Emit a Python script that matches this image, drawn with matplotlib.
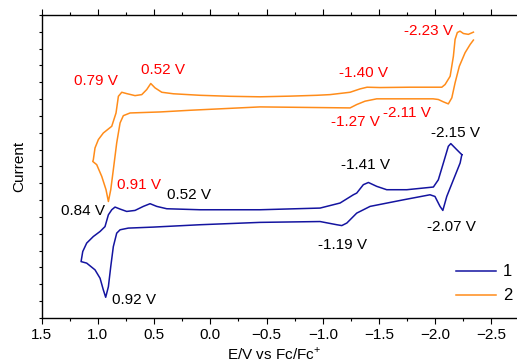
import matplotlib
matplotlib.use("Agg")
import matplotlib.pyplot as plt
from matplotlib.ticker import MultipleLocator, NullFormatter

plt.rcParams["font.family"] = ["Liberation Sans", "DejaVu Sans"]
plt.rcParams["mathtext.fontset"] = "custom"
plt.rcParams["mathtext.rm"] = "Liberation Sans"

# CV of compound 2 (orange): potential (V vs Fc/Fc+) and current (arb. units)
E2 = [-2.340, -2.295, -2.251, -2.221, -2.197, -2.177, -2.162, -2.133, -2.088, -2.059,
      -1.955, -1.776, -1.510, -1.394, -1.332, -1.243, -1.065, -0.947, -0.712, -0.442,
      -0.175, 0.092, 0.329, 0.432, 0.492, 0.530, 0.566, 0.610, 0.670, 0.744,
      0.788, 0.818, 0.839, 0.877, 0.952, 0.996, 1.026, 1.041, 1.046, 1.011,
      0.966, 0.928, 0.907, 0.886, 0.863, 0.833, 0.803, 0.774, 0.714, 0.448,
      0.181, -0.442, -1.243, -1.302, -1.376, -1.480, -1.688, -1.981, -2.028, -2.073,
      -2.117, -2.148, -2.177, -2.215, -2.266, -2.311, -2.340]
I2 = [16.98, 16.85, 16.90, 17.04, 16.96, 16.55, 15.55, 14.36, 13.87, 13.71,
      13.71, 13.71, 13.69, 13.71, 13.61, 13.41, 13.27, 13.23, 13.18, 13.14,
      13.17, 13.23, 13.32, 13.41, 13.67, 13.93, 13.57, 13.27, 13.21, 13.33,
      13.41, 13.17, 12.18, 11.39, 10.99, 10.60, 10.10, 9.40, 9.30, 9.11,
      8.41, 7.62, 6.92, 7.62, 8.81, 10.40, 11.59, 12.02, 12.18, 12.24,
      12.34, 12.54, 12.48, 12.68, 12.88, 13.02, 13.02, 13.02, 12.98, 12.84,
      12.72, 13.08, 13.97, 14.96, 15.76, 16.25, 16.51]

# CV of compound 1 (blue)
E1 = [-2.237, -2.192, -2.139, -2.117, -2.073, -2.028, -1.984, -1.747, -1.569, -1.480,
      -1.406, -1.361, -1.302, -1.272, -1.154, -0.976, -0.442, 0.092, 0.388, 0.477,
      0.536, 0.596, 0.670, 0.744, 0.803, 0.848, 0.877, 0.907, 0.937, 0.981,
      1.041, 1.100, 1.135, 1.150, 1.100, 1.026, 0.981, 0.952, 0.931, 0.907,
      0.886, 0.863, 0.833, 0.803, 0.730, 0.507, 0.092, -0.442, -0.976, -1.125,
      -1.169, -1.214, -1.302, -1.421, -1.717, -1.954, -1.998, -2.043, -2.068, -2.103,
      -2.162, -2.222, -2.237]
I1 = [9.70, 10.00, 10.36, 10.20, 9.21, 8.21, 7.78, 7.62, 7.62, 7.82,
      8.05, 7.92, 7.42, 7.32, 6.83, 6.53, 6.43, 6.43, 6.49, 6.63,
      6.79, 6.63, 6.39, 6.33, 6.47, 6.59, 6.43, 6.13, 5.43, 5.14,
      4.84, 4.45, 3.95, 3.35, 3.26, 2.86, 2.36, 1.67, 1.23, 1.86,
      3.05, 4.24, 5.04, 5.24, 5.34, 5.40, 5.54, 5.68, 5.73, 5.54,
      5.49, 5.64, 6.23, 6.63, 7.02, 7.32, 7.22, 6.63, 6.39, 7.22,
      8.21, 9.21, 9.70]

# peak annotations: (text, E, I)
red_labels = ["0.79 V", "0.52 V", "-1.40 V", "-2.23 V", "-1.27 V", "-2.11 V", "0.91 V"]
red_E = [1.017, 0.421, -1.358, -1.937, -1.287, -1.749, 0.634]
red_I = [14.08, 14.76, 14.58, 17.02, 11.64, 12.20, 7.92]
black_labels = ["0.84 V", "0.52 V", "-1.41 V", "-2.15 V", "-1.19 V", "-2.07 V", "0.92 V"]
black_E = [1.137, 0.189, -1.376, -2.177, -1.172, -2.141, 0.683]
black_I = [6.37, 7.32, 9.11, 10.98, 4.32, 5.39, 1.07]

BLUE = "#1414a0"
ORANGE = "#ff8c1a"
FS = 11

fig = plt.figure(figsize=(5.17, 3.64), dpi=100)
ax = fig.add_axes([0.0807, 0.1264, 0.935, 0.8324])
ax.plot(E1, I1, color=BLUE, lw=1.1, label="1")
ax.plot(E2, I2, color=ORANGE, lw=1.1, label="2")

for t, x, y in zip(red_labels, red_E, red_I):
    ax.text(x, y, t, color="#ff0000", fontsize=FS, ha="center", va="center")
for t, x, y in zip(black_labels, black_E, black_I):
    ax.text(x, y, t, color="black", fontsize=FS, ha="center", va="center")

ax.set_xlim(1.5, -2.8)
ax.set_ylim(0, 18)
ax.xaxis.set_major_locator(MultipleLocator(0.5))
ax.xaxis.set_minor_locator(MultipleLocator(0.25))
ax.yaxis.set_major_locator(MultipleLocator(1))
ax.yaxis.set_major_formatter(NullFormatter())
ax.tick_params(axis="x", which="major", direction="out", length=4, width=0.8,
               labelsize=FS, pad=3, top=True)
ax.tick_params(axis="x", which="minor", direction="out", length=2.5, width=0.8, top=True)
ax.tick_params(axis="y", which="major", direction="out", length=2, width=0.8)
for s in ax.spines.values():
    s.set_linewidth(1.0)
ax.spines["right"].set_visible(False)

ax.set_xlabel("E/V vs Fc/Fc$^{+}$", fontsize=FS)
ax.xaxis.set_label_coords(0.48, -0.092)
ax.set_ylabel("Current", fontsize=FS)
ax.yaxis.set_label_coords(-0.032, 0.5)

ax.legend(loc="upper left", bbox_to_anchor=(448 / 517, (364 - 256) / 364),
          bbox_transform=fig.transFigure, frameon=False, fontsize=FS + 1,
          handlelength=2.4, handletextpad=0.4, borderpad=0, labelspacing=0.55)

fig.savefig("out.png", dpi=100, facecolor="white")
